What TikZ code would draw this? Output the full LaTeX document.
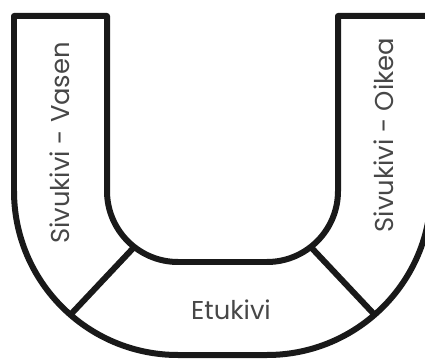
\documentclass[tikz,border=0pt]{standalone}
\usepackage{fontspec}
\newfontfamily\stonefont{Poppins}
\usetikzlibrary{calc}

\begin{document}
\begin{tikzpicture}[
    x=0.02cm, y=0.02cm,
    wall/.style={line width=0.12cm, black!90, line join=round},
    stone/.style={font=\stonefont\fontsize{14.7}{16}\selectfont, text=black!72, inner sep=0pt}
]
    \useasboundingbox (0,0) rectangle (425,358);
    \clip (0,0) rectangle (425,358);

    % Corner centres
    \coordinate (cl) at (178,167);
    \coordinate (cr) at (267,167);

    % U outline
    \draw[wall] (107,342) -- (14,342) -- (14,167)
        arc[start angle=180, end angle=270, radius=164] -- (267,3)
        arc[start angle=270, end angle=360, radius=164] -- (431,342) -- (338,342) -- (338,167)
        arc[start angle=0, end angle=-90, radius=71] -- (178,96)
        arc[start angle=270, end angle=180, radius=71] -- cycle;

    % Joints
    \coordinate (il) at ($(cl)+(232:71)$);
    \coordinate (ol) at ($(cl)+(229:164)$);
    \coordinate (ir) at ($(cr)+(-52:71)$);
    \coordinate (or) at ($(cr)+(-49:164)$);
    \draw[wall] (il) -- (ol);
    \draw[wall] (ir) -- (or);

    % Labels
    \node[stone, rotate=90] (vasen) at (60,215) {Sivukivi - Vasen};
    \node[stone, rotate=90] (oikea) at (384,223) {Sivukivi - Oikea};
    \node[stone] (etu) at (231,48) {Etukivi};
\end{tikzpicture}
\end{document}
